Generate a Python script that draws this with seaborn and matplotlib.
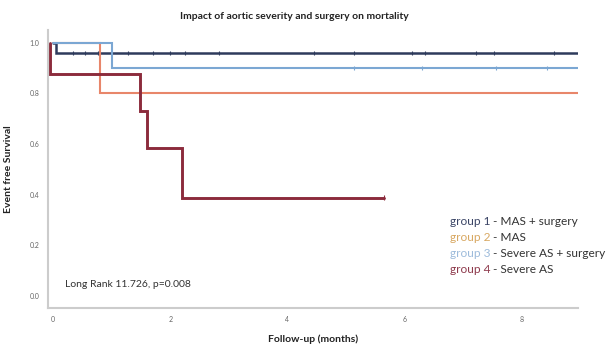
import numpy as np
import pandas as pd
import matplotlib
matplotlib.use("Agg")
import matplotlib.pyplot as plt
import seaborn as sns
from matplotlib.offsetbox import TextArea, HPacker, VPacker, AnchoredOffsetbox

# Kaplan-Meier step data (time in months, event-free survival)
groups = ["group 1", "group 2", "group 3", "group 4"]
descriptions = [" - MAS + surgery", " - MAS", " - Severe AS + surgery", " - Severe AS"]

g1_times = [0.0, 0.05, 8.95]
g1_surv = [1.0, 0.96, 0.96]
g2_times = [0.0, 0.8, 8.95]
g2_surv = [1.0, 0.80, 0.80]
g3_times = [0.0, 1.0, 8.95]
g3_surv = [1.0, 0.90, 0.90]
g4_times = [-0.05, -0.05, 1.48, 1.6, 2.2, 5.65]
g4_surv = [1.0, 0.875, 0.729, 0.583, 0.389, 0.389]

# censored observations
g1_censor = [0.34, 0.55, 0.77, 1.28, 1.7, 1.99, 2.25, 2.84, 4.46, 5.14, 6.12, 6.34, 7.22, 7.53, 8.55]
g3_censor = [5.14, 6.3, 7.56, 8.43]
g4_censor = [5.65]

line_colors = ["#2e3b5c", "#e8866a", "#7ba7d3", "#8c2b3c"]
label_colors = ["#3b4566", "#d8a862", "#9dbbdb", "#8e3a4c"]
line_widths = [1.8, 1.5, 1.5, 2.1]

sns.set_style("white")
plt.rcParams["font.family"] = ["Lato", "DejaVu Sans"]

frames = []
for g, t, s in zip(groups, [g1_times, g2_times, g3_times, g4_times],
                   [g1_surv, g2_surv, g3_surv, g4_surv]):
    frames.append(pd.DataFrame({"time": t, "surv": s, "group": g}))
df = pd.concat(frames, ignore_index=True)

cens = pd.concat([
    pd.DataFrame({"time": g1_censor, "surv": g1_surv[-1], "group": "group 1"}),
    pd.DataFrame({"time": g3_censor, "surv": g3_surv[-1], "group": "group 3"}),
    pd.DataFrame({"time": g4_censor, "surv": g4_surv[-1], "group": "group 4"}),
], ignore_index=True)

fig = plt.figure(figsize=(6.14, 3.44), dpi=100)
ax = fig.add_axes([0.078, 0.105, 0.863, 0.808])

palette = dict(zip(groups, line_colors))
sns.lineplot(data=df, x="time", y="surv", hue="group", palette=palette,
             drawstyle="steps-post", estimator=None, sort=False,
             legend=False, ax=ax)
for line, lw in zip(ax.lines, line_widths):
    line.set_linewidth(lw)
    line.set_solid_joinstyle("miter")

sns.scatterplot(data=cens, x="time", y="surv", hue="group", palette=palette,
                marker="|", s=9, linewidth=0.8, legend=False, ax=ax, zorder=3)

ax.set_xlim(-0.085, 8.95)
ax.set_ylim(-0.047, 1.051)
ax.set_xticks([0, 2, 4, 6, 8])
ax.set_yticks([0.0, 0.2, 0.4, 0.6, 0.8, 1.0])
ax.set_yticklabels([f"{v:.1f}" for v in [0.0, 0.2, 0.4, 0.6, 0.8, 1.0]])
ax.tick_params(axis="both", labelsize=5, colors="#666666", length=0, pad=6)

for side in ["top", "right"]:
    ax.spines[side].set_visible(False)
for side in ["left", "bottom"]:
    ax.spines[side].set_color("#cccccc")
    ax.spines[side].set_linewidth(1.5)

ax.set_xlabel("Follow-up (months)", fontsize=7.5, fontweight="bold", color="#222222", labelpad=8)
ax.set_ylabel("Event free Survival", fontsize=7.5, fontweight="bold", color="#222222", labelpad=12)
fig.text(0.479, 0.951, "Impact of aortic severity and surgery on mortality",
         ha="center", va="center", fontsize=7.5, fontweight="bold", color="#222222")

ax.text(0.032, 0.085, "Long Rank 11.726, p=0.008", transform=ax.transAxes,
        fontsize=7.5, color="#333333", va="center", ha="left")

# legend with coloured group names
rows = []
for g, d, c in zip(groups, descriptions, label_colors):
    rows.append(HPacker(children=[
        TextArea(g, textprops=dict(color=c, fontsize=8.6)),
        TextArea(d, textprops=dict(color="#333333", fontsize=8.6)),
    ], align="baseline", pad=0, sep=0))
box = VPacker(children=rows, align="left", pad=0, sep=3.6)
anchored = AnchoredOffsetbox(loc="upper left", child=box, frameon=False,
                             bbox_to_anchor=(0.748, 0.35),
                             bbox_transform=ax.transAxes, borderpad=0)
ax.add_artist(anchored)

fig.savefig("out.png", dpi=100)
